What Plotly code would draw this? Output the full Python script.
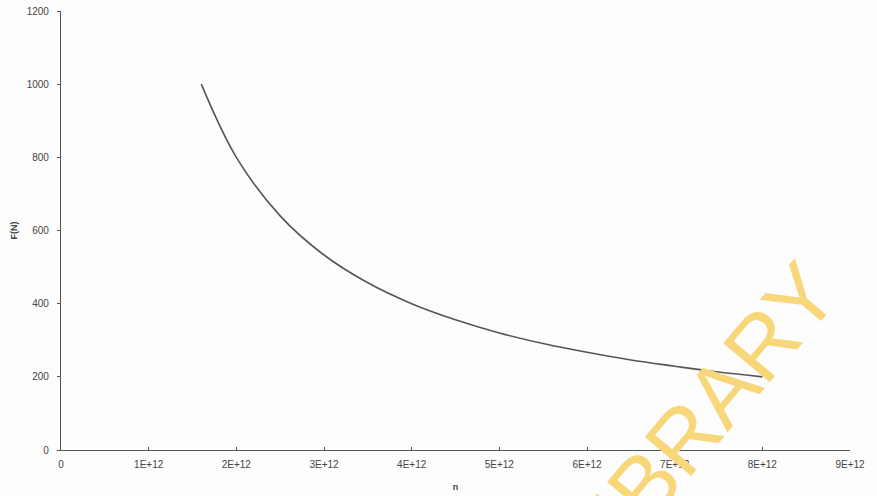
import plotly.graph_objects as go

n_values = [1.6e12, 2.0e12, 2.5e12, 3.0e12, 3.5e12, 4.0e12, 4.5e12, 5.0e12,
            5.5e12, 6.0e12, 6.5e12, 7.0e12, 7.5e12, 8.0e12]
F_values = [1000, 800, 640, 533, 457, 400, 356, 320, 291, 267, 246, 229, 213, 200]
x_tick_vals = [0, 1e12, 2e12, 3e12, 4e12, 5e12, 6e12, 7e12, 8e12, 9e12]
x_tick_text = ["0", "1E+12", "2E+12", "3E+12", "4E+12", "5E+12", "6E+12", "7E+12", "8E+12", "9E+12"]
y_tick_vals = [0, 200, 400, 600, 800, 1000, 1200]

fig = go.Figure()
fig.add_trace(go.Scatter(x=n_values, y=F_values, mode="lines",
                         line=dict(color="#555555", width=1.6, shape="spline"),
                         showlegend=False))

fig.update_layout(
    width=877, height=496,
    margin=dict(l=61, r=27, t=11, b=46, autoexpand=False),
    paper_bgcolor="#fdfdfd", plot_bgcolor="#fdfdfd",
    font=dict(family="Liberation Sans, Arial", size=10, color="#444444"),
    xaxis=dict(range=[0, 9e12], tickvals=x_tick_vals, ticktext=x_tick_text,
               showgrid=False, zeroline=False, showline=True, linecolor="#555555",
               linewidth=1.2, ticks="inside", ticklen=3, tickcolor="#555555",
               automargin=False, ticklabelstandoff=5,
               title=dict(text="<b>n</b>", font=dict(size=9, color="#444444"), standoff=14)),
    yaxis=dict(range=[0, 1200], tickvals=y_tick_vals,
               showgrid=False, zeroline=False, showline=True, linecolor="#555555",
               linewidth=1.2, ticks="outside", ticklen=3, tickcolor="#555555",
               automargin=False, ticklabelstandoff=6,
               title=dict(text="<b>F(N)</b>", font=dict(size=9, color="#444444"), standoff=7)),
    annotations=[dict(text="LIBRARY", xref="paper", yref="paper", x=0.808, y=0.07,
                      xanchor="center", yanchor="middle",
                      showarrow=False, textangle=-50,
                      font=dict(family="Liberation Sans, Arial", size=88, color="#f8d77a"))],
)

fig.write_html("out.html", config={"displayModeBar": False},
               post_script="document.body.style.margin='0';document.body.style.overflow='hidden';")
